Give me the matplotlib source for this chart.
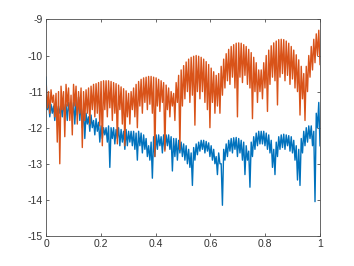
import numpy as np
import matplotlib
matplotlib.use("Agg")
import matplotlib.pyplot as plt

plt.rcParams['axes.unicode_minus'] = False
plt.rcParams['font.family'] = ['Liberation Sans', 'DejaVu Sans']

# Orange series: upper value and dip value of each fast oscillation
orange_top = [
    -10.85, -11.0, -10.95, -11.1, -11.05, -11.0,
    -10.85, -11.0, -10.8, -10.9, -11.1, -10.8, -10.85, -11.0, -10.9,
    -11.0, -10.95, -10.9, -10.85, -10.8, -10.78, -10.75, -10.72, -10.7, -10.7,
    -10.7, -10.72, -10.75, -10.78, -10.82, -10.87, -10.92, -10.98, -11.05,
    -11.0, -10.9, -10.8, -10.72, -10.66, -10.62, -10.6, -10.58, -10.58, -10.6,
    -10.62, -10.66, -10.7, -10.75, -10.82, -10.9, -11.0, -11.05,
    -10.75, -10.55, -10.4, -10.28, -10.18, -10.1, -10.05, -10.02, -10.0, -10.02,
    -10.05, -10.1, -10.17, -10.25, -10.35, -10.45, -10.55,
    -10.5, -10.3, -10.1, -9.95, -9.83, -9.75, -9.7, -9.66, -9.65, -9.66,
    -9.7, -9.75, -9.83, -9.92, -10.05, -10.2, -10.4,
    -10.4, -10.2, -10.0, -9.85, -9.73, -9.65, -9.6, -9.56, -9.55, -9.56,
    -9.6, -9.66, -9.75, -9.85, -9.98, -10.12, -10.3, -10.5,
    -10.3, -10.0, -9.75, -9.55, -9.4, -9.3,
]
orange_dip = [
    -11.45, -11.6, -11.3, -11.7, -12.4, -13.0,
    -11.5, -12.25, -11.4, -11.8, -12.2, -11.4, -11.9, -11.6, -12.55,
    -11.8, -11.6, -11.9, -11.5, -11.7, -11.6, -11.95, -12.5, -11.5, -11.7,
    -11.45, -11.8, -11.6, -12.45, -11.5, -11.9, -12.5, -11.7, -11.9,
    -11.5, -11.7, -12.0, -11.4, -11.6, -11.3, -11.5, -11.35, -11.6, -12.8,
    -11.4, -11.55, -11.3, -12.65, -11.5, -11.7, -11.4, -11.8,
    -11.3, -12.6, -11.4, -11.2, -11.0, -11.3, -11.1, -11.93, -11.0, -11.2,
    -11.0, -11.3, -11.5, -12.0, -11.3, -11.6, -11.4,
    -11.6, -11.1, -10.9, -10.7, -10.8, -10.6, -10.9, -11.7, -10.6, -10.75,
    -10.55, -10.8, -10.9, -11.75, -11.0, -11.3, -11.0,
    -11.2, -10.9, -11.55, -10.8, -10.6, -10.7, -11.37, -10.6, -10.5, -10.7,
    -10.55, -10.8, -10.65, -10.9, -11.0, -11.65, -11.2, -11.8,
    -11.0, -10.6, -10.4, -10.2, -10.0, -10.25,
]

# Blue series: upper value and dip value of each fast oscillation
blue_top = [
    -10.6, -11.3, -11.35, -11.4, -11.3, -11.4,
    -11.4, -11.35, -11.35, -11.3, -11.35, -11.3, -11.25, -11.15, -11.3,
    -11.5, -11.6, -11.7, -11.65, -11.8, -11.75, -11.85, -11.95, -12.0, -12.0,
    -11.95, -12.0, -12.0, -12.05, -12.0, -12.05, -12.1, -12.05, -12.1,
    -12.1, -12.1, -12.15, -12.1, -12.15, -12.2, -12.3, -12.5, -12.4, -12.25,
    -12.2, -12.2, -12.25, -12.2, -12.2, -12.2, -12.25, -12.3,
    -12.3, -12.35, -12.4, -12.45, -12.5, -12.6, -12.7, -12.55, -12.45, -12.4,
    -12.35, -12.35, -12.38, -12.42, -12.5, -12.6, -12.8,
    -12.7, -13.0, -12.6, -12.45, -12.35, -12.3, -12.28, -12.27, -12.3, -12.35,
    -12.4, -12.5, -12.65, -12.4, -12.25, -12.15, -12.1,
    -12.1, -12.1, -12.15, -12.2, -12.35, -12.6, -12.4, -12.25, -12.2, -12.18,
    -12.2, -12.22, -12.25, -12.35, -12.5, -12.6, -12.3, -12.1,
    -12.0, -11.95, -11.95, -12.1, -11.6, -11.3,
]
blue_dip = [
    -11.5, -11.7, -11.6, -11.8, -11.7, -11.6,
    -11.7, -11.6, -11.8, -11.6, -11.7, -11.9, -11.65, -11.8, -12.0,
    -12.3, -11.9, -12.1, -12.0, -12.2, -12.1, -12.4, -12.3, -12.2, -12.4,
    -13.1, -12.3, -12.45, -12.3, -12.5, -12.4, -12.6, -12.5, -12.4,
    -12.5, -12.6, -12.9, -12.5, -12.7, -12.6, -12.8, -12.9, -13.4, -12.8,
    -12.6, -12.5, -12.7, -12.6, -12.5, -12.6, -13.2, -12.8,
    -12.9, -12.7, -12.8, -12.9, -13.0, -13.1, -13.6, -12.9, -12.75, -12.65,
    -12.6, -12.7, -12.65, -12.8, -12.9, -13.0, -13.3,
    -13.0, -14.15, -12.9, -12.8, -12.65, -12.7, -12.6, -12.8, -12.7, -12.9,
    -13.3, -12.9, -13.65, -12.8, -12.6, -12.5, -12.45,
    -12.45, -12.5, -12.6, -12.7, -13.1, -13.3, -12.8, -12.6, -12.55, -12.6,
    -12.5, -12.65, -12.7, -12.9, -13.45, -13.6, -12.7, -12.5,
    -12.4, -12.3, -12.5, -14.05, -12.0, -12.5,
]

x_ticks = [0, 0.2, 0.4, 0.6, 0.8, 1]
x_tick_labels = ['0', '0.2', '0.4', '0.6', '0.8', '1']
y_ticks = [-15, -14, -13, -12, -11, -10, -9]
y_tick_labels = ['-15', '-14', '-13', '-12', '-11', '-10', '-9']

def interleave(top, dip):
    out = np.empty(2 * len(top))
    out[0::2] = top
    out[1::2] = dip
    return out

orange = interleave(orange_top, orange_dip)
blue = interleave(blue_top, blue_dip)
x = np.linspace(0, 1, len(orange))

fig = plt.figure(figsize=(3.54, 2.66), dpi=100)
ax = fig.add_axes([0.13, 0.113, 0.774, 0.814])
ax.plot(x, blue, color='#0072BD', lw=1.0)
ax.plot(x, orange, color='#D95319', lw=1.0)
ax.set_xlim(0, 1)
ax.set_ylim(-15, -9)
ax.set_xticks(x_ticks)
ax.set_xticklabels(x_tick_labels)
ax.set_yticks(y_ticks)
ax.set_yticklabels(y_tick_labels)
axcol = '#333333'
for s in ax.spines.values():
    s.set_color('#4d4d4d')
    s.set_linewidth(0.6)
ax.tick_params(direction='in', length=2.5, width=0.6, color='#4d4d4d',
               labelcolor=axcol, labelsize=7.5, top=True, right=True, pad=2.5)
fig.savefig('out.png', dpi=100)
